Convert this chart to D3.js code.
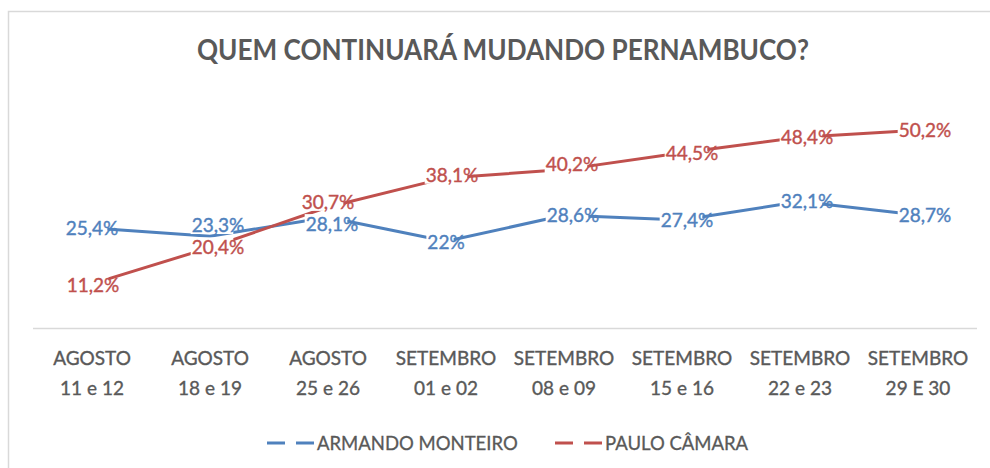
<!DOCTYPE html>
<html>
<head>
<meta charset="utf-8">
<script src="https://cdn.jsdelivr.net/npm/d3@7"></script>
<style>
  body { margin: 0; background: #fff; }
  text { font-family: Lato, "Open Sans", sans-serif; }
</style>
</head>
<body>
<div id="vis"></div>
<script>
// data
const categories = [
  ['AGOSTO', '11 e 12'], ['AGOSTO', '18 e 19'], ['AGOSTO', '25 e 26'],
  ['SETEMBRO', '01 e 02'], ['SETEMBRO', '08 e 09'], ['SETEMBRO', '15 e 16'],
  ['SETEMBRO', '22 e 23'], ['SETEMBRO', '29 E 30']
]
const armando = [25.4, 23.3, 28.1, 22, 28.6, 27.4, 32.1, 28.7]
const paulo = [11.2, 20.4, 30.7, 38.1, 40.2, 44.5, 48.4, 50.2]
const seriesNames = ['ARMANDO MONTEIRO', 'PAULO CÂMARA']

// label nudges (manual placement in the original)
const armandoNudge = [[0, 0], [8, -11], [4, 7], [0, 1], [9, 0], [5, 0], [7, 0], [7, 0]]
const pauloNudge = [[1, 1], [8, 0], [0, -5], [6, -3], [8, -5], [10, 0], [7, 0], [7, 0]]

;(function() {
  const svg_width = 990,
        svg_height = 468,
        blue = '#4f81bd',
        red = '#c0504d',
        grey = '#595959'

  const svg = d3.select('#vis').append('svg')
    .attr('width', svg_width)
    .attr('height', svg_height)

  // chart border
  svg.append('rect')
    .attr('x', 8.5).attr('y', 11.5)
    .attr('width', 1000).attr('height', 500)
    .attr('fill', '#fff')
    .attr('stroke', '#d9d9d9')
    .attr('stroke-width', 1.5)

  // title
  svg.append('text')
    .attr('x', 503)
    .attr('y', 60)
    .attr('text-anchor', 'middle')
    .attr('font-size', 29)
    .attr('font-weight', 'bold')
    .attr('fill', grey)
    .attr('textLength', 612)
    .attr('lengthAdjust', 'spacingAndGlyphs')
    .text('QUEM CONTINUARÁ MUDANDO PERNAMBUCO?')

  const x = d3.scalePoint()
    .domain(d3.range(categories.length))
    .range([33, 977])
    .padding(0.5)

  const y = d3.scaleLinear()
    .domain([0, 60])
    .range([328, 91.6])

  // category axis
  svg.append('line')
    .attr('x1', 33).attr('x2', 977)
    .attr('y1', 328.5).attr('y2', 328.5)
    .attr('stroke', '#d9d9d9')
    .attr('stroke-width', 1.3)

  const ticks = svg.append('g').attr('class', 'ticks')
    .selectAll('text')
    .data(categories)
    .join('text')
    .attr('x', (d, i) => x(i))
    .attr('text-anchor', 'middle')
    .attr('font-size', 19)
    .attr('fill', grey)
    .attr('stroke', grey)
    .attr('stroke-width', 0.35)
  ticks.append('tspan').attr('x', (d, i) => x(i)).attr('y', 365).text(d => d[0])
  ticks.append('tspan').attr('x', (d, i) => x(i)).attr('y', 395).text(d => d[1])

  const fmt = v => (Number.isInteger(v) ? String(v) : v.toFixed(1).replace('.', ',')) + '%'

  const line = d3.line()
    .x((d, i) => x(i))
    .y(d => y(d))

  const series = [
    { name: seriesNames[0], values: armando, color: blue, nudge: armandoNudge },
    { name: seriesNames[1], values: paulo, color: red, nudge: pauloNudge }
  ]

  series.forEach(s => {
    svg.append('path')
      .datum(s.values)
      .attr('d', line)
      .attr('fill', 'none')
      .attr('stroke', s.color)
      .attr('stroke-width', 3)
      .attr('stroke-linejoin', 'round')
  })

  // data labels, each sits in a white gap cut out of its line
  series.forEach(s => {
    const g = svg.append('g').attr('class', 'labels')
    s.values.forEach((v, i) => {
      const lg = g.append('g')
      const t = lg.append('text')
        .attr('x', x(i) + s.nudge[i][0])
        .attr('y', y(v) + s.nudge[i][1])
        .attr('dy', '0.36em')
        .attr('text-anchor', 'middle')
        .attr('font-size', 19)
        .attr('fill', s.color)
        .attr('stroke', s.color)
        .attr('stroke-width', 0.4)
        .text(fmt(v))
      const bb = t.node().getBBox()
      lg.insert('rect', 'text')
        .attr('x', bb.x - 1)
        .attr('y', bb.y + 2)
        .attr('width', Math.max(0, bb.width - 10))
        .attr('height', bb.height - 4)
        .attr('fill', '#fff')
    })
  })

  // legend
  const legend = svg.append('g').attr('class', 'legend')
  const legendX = [267, 555]
  series.forEach((s, i) => {
    const lg = legend.append('g').attr('transform', `translate(${legendX[i]},443)`)
    lg.append('line')
      .attr('x1', 0).attr('x2', 48)
      .attr('stroke', s.color)
      .attr('stroke-width', 3)
      .attr('stroke-dasharray', '18,11')
    lg.append('text')
      .attr('x', 50)
      .attr('dy', '0.36em')
      .attr('font-size', 18.5)
      .attr('fill', grey)
      .attr('stroke', grey)
      .attr('stroke-width', 0.3)
      .text(s.name)
  })
}())
</script>
</body>
</html>
